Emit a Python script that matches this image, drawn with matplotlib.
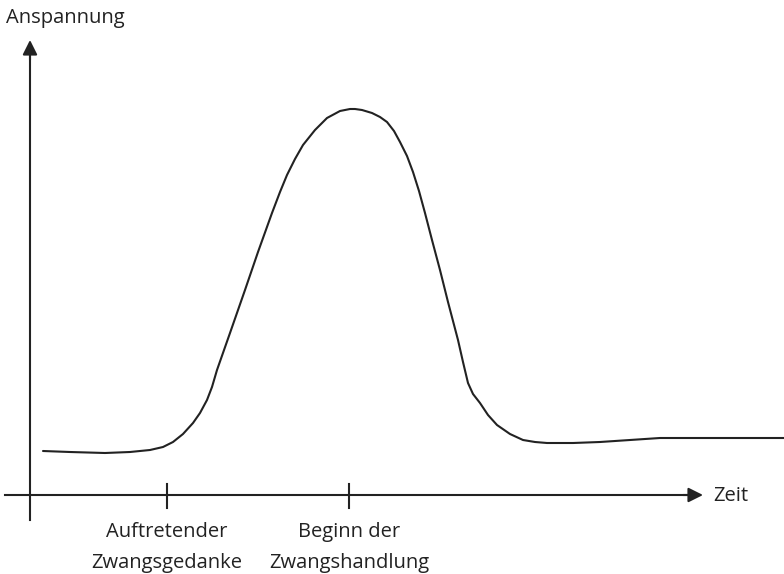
import matplotlib
matplotlib.use("Agg")
import matplotlib.pyplot as plt

# Kurve (in Bildpunkten: x nach rechts, y nach unten)
kurve_x = [43, 70, 105, 130, 150, 163, 173, 183, 193, 200, 207, 212, 217, 230,
           245, 258, 272, 280, 287, 295, 303, 315, 327, 340, 350, 355, 362,
           372, 380, 387, 394, 400, 407, 413, 419, 425, 432, 440, 448, 458,
           463, 468, 473, 480, 488, 497, 510, 523, 535, 547, 560, 573, 600,
           630, 660, 700, 784]
kurve_y = [451, 452, 453, 452, 450, 447, 442, 434, 423, 413, 400, 387, 370, 333,
           290, 252, 213, 192, 175, 159, 145, 130, 118, 111, 109, 109, 110,
           113, 117, 122, 131, 142, 156, 172, 191, 213, 240, 270, 302, 340,
           362, 383, 394, 403, 415, 425, 434, 440, 442, 443, 443, 443, 442,
           440, 438, 438, 438]

ticks_x = [167, 349]
tick_labels = ["Auftretender\nZwangsgedanke", "Beginn der\nZwangshandlung"]

farbe = "#222222"
schrift = ["Open Sans", "DejaVu Sans"]

fig = plt.figure(figsize=(7.84, 5.74), dpi=100)
ax = fig.add_axes([0, 0, 1, 1])
ax.set_xlim(0, 784)
ax.set_ylim(574, 0)
ax.axis("off")

# Achsen mit Pfeilen
ax.plot([30, 30], [520, 55], color=farbe, lw=1.5)
ax.annotate("", xy=(30, 40), xytext=(30, 60),
            arrowprops=dict(arrowstyle="-|>", color=farbe, lw=1.5,
                            mutation_scale=22, shrinkA=0, shrinkB=0))
ax.plot([5, 690], [495, 495], color=farbe, lw=1.5)
ax.annotate("", xy=(703, 495), xytext=(683, 495),
            arrowprops=dict(arrowstyle="-|>", color=farbe, lw=1.5,
                            mutation_scale=22, shrinkA=0, shrinkB=0))

for tx, lab in zip(ticks_x, tick_labels):
    ax.plot([tx, tx], [484, 508], color=farbe, lw=1.5)
    ax.text(tx, 522, lab, ha="center", va="top", fontsize=14.5,
            family=schrift, color=farbe, linespacing=1.72)

ax.plot(kurve_x, kurve_y, color=farbe, lw=1.5, solid_capstyle="round",
        solid_joinstyle="round")

ax.text(6, 18, "Anspannung", ha="left", va="center", fontsize=14.5,
        family=schrift, color=farbe)
ax.text(713, 496, "Zeit", ha="left", va="center", fontsize=14.5,
        family=schrift, color=farbe)

fig.savefig("out.png", dpi=100)
